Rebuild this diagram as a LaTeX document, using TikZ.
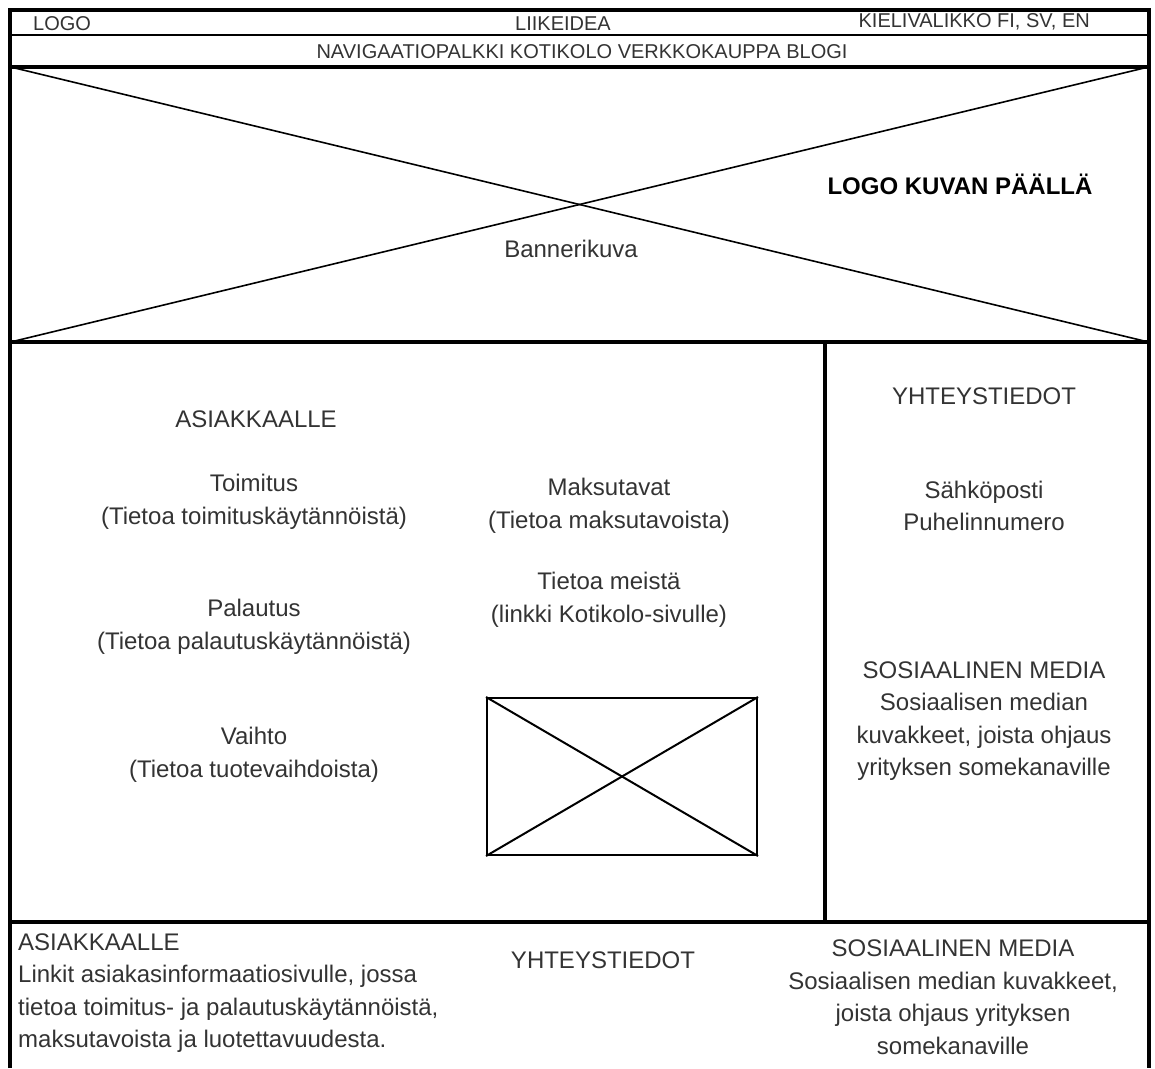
\documentclass[tikz,border=0pt]{standalone}
\usepackage{fontspec}
\setmainfont{Liberation Sans}
\usepackage{tikz}
\usetikzlibrary{positioning}
\definecolor{wireink}{HTML}{000000}
\definecolor{wiretext}{HTML}{333333}

\begin{document}
\begin{tikzpicture}[
  x=1pt, y=-1pt,
  frame/.style={draw=wireink, line width=4.5pt},
  divider/.style={draw=wireink, line width=3.5pt},
  thinrule/.style={draw=wireink, line width=2pt},
  crossline/.style={draw=wireink, line width=1.6pt},
  imgbox/.style={draw=wireink, line width=2pt, inner sep=0pt},
  txt/.style={font=\fontsize{24}{32.5}\selectfont, text=wiretext, align=center, inner sep=0pt},
  toptxt/.style={font=\fontsize{20}{24}\selectfont, text=wiretext, inner sep=0pt}
]
\useasboundingbox (0,0) rectangle (1155,1068);

% ---- Kehys ja jakoviivat ----
\draw[frame] (10,1068) -- (10,10) -- (1149,10) -- (1149,1068);
\draw[thinrule] (10,35) -- (1149,35);
\draw[divider] (10,67) -- (1149,67);
\draw[frame] (10,342) -- (1149,342);
\draw[divider] (825,342) -- (825,922);
\draw[divider] (10,922) -- (1149,922);

% ---- Yläpalkki ----
\node[toptxt, anchor=west] (logo) at (33,24) {LOGO};
\node[toptxt] (idea) at (563,24) {LIIKEIDEA};
\node[toptxt, anchor=east] (kieli) at (1090,22) {KIELIVALIKKO FI, SV, EN};
\node[toptxt] (navi) at (582,52) {NAVIGAATIOPALKKI KOTIKOLO VERKKOKAUPPA BLOGI};

% ---- Bannerikuva ----
\node[minimum width=1139pt, minimum height=275pt, inner sep=0pt] (banner) at (579.5,204.5) {};
\draw[crossline] (banner.north west) -- (banner.south east);
\draw[crossline] (banner.south west) -- (banner.north east);
\node[txt, font=\fontsize{24}{32.5}\selectfont\bfseries, text=black] (bannerlogo) at (960,184) {LOGO KUVAN PÄÄLLÄ};
\node[txt] (bannertxt) at (571,249) {Bannerikuva};

% ---- Asiakkaalle ----
\node[txt] (asiakas) at (256,419) {ASIAKKAALLE};
\node[txt] (toimitus) at (254,502) {Toimitus\\(Tietoa toimituskäytännöistä)};
\node[txt] (palautus) at (254,627) {Palautus\\(Tietoa palautuskäytännöistä)};
\node[txt] (vaihto) at (254,755) {Vaihto\\(Tietoa tuotevaihdoista)};
\node[txt] (maksu) at (609,506) {Maksutavat\\(Tietoa maksutavoista)};
\node[txt] (meista) at (609,600) {Tietoa meistä\\(linkki Kotikolo-sivulle)};

% kuvan paikka
\node[imgbox, minimum width=270pt, minimum height=157pt] (kuva) at (622,776.5) {};
\draw[imgbox] (kuva.north west) -- (kuva.south east);
\draw[imgbox] (kuva.south west) -- (kuva.north east);

% ---- Yhteystiedot ----
\node[txt] (yhteys) at (984,396) {YHTEYSTIEDOT};
\node[txt] (posti) at (984,506) {Sähköposti\\Puhelinnumero};
\node[txt] (some) at (984,721) {SOSIAALINEN MEDIA\\Sosiaalisen median\\kuvakkeet, joista ohjaus\\yrityksen somekanaville};

% ---- Alapalkki ----
\node[txt, align=left, anchor=west] (alaasiakas) at (18,993) {ASIAKKAALLE\\Linkit asiakasinformaatiosivulle, jossa\\tietoa toimitus- ja palautuskäytännöistä,\\maksutavoista ja luotettavuudesta.};
\node[txt] (alayhteys) at (603,960) {YHTEYSTIEDOT};
\node[txt] (alasome) at (953,997) {SOSIAALINEN MEDIA\\Sosiaalisen median kuvakkeet,\\joista ohjaus yrityksen\\somekanaville};

\end{tikzpicture}
\end{document}
